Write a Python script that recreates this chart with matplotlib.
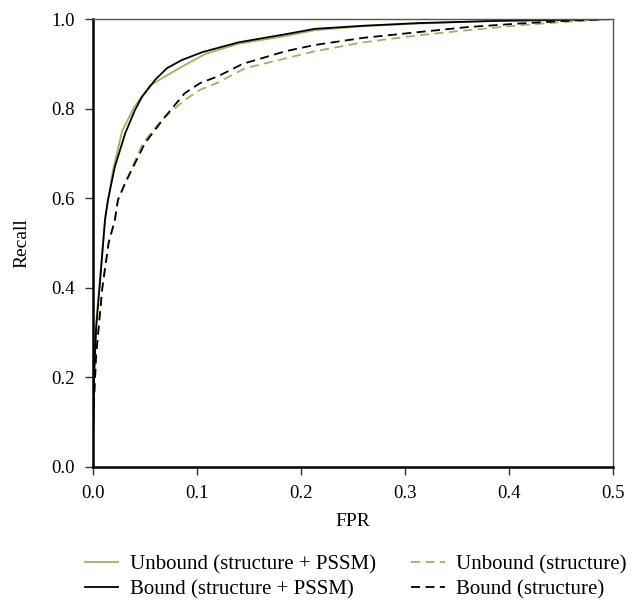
import matplotlib.pyplot as plt

plt.rcParams['font.family'] = ['Liberation Serif', 'DejaVu Serif']

green = '#94b763'

# ROC-style curves: recall vs false positive rate
fpr_ub_pssm = [0.0, 0.001, 0.003, 0.007, 0.012, 0.019, 0.028, 0.04, 0.055, 0.068, 0.085, 0.108, 0.14, 0.185, 0.213, 0.26, 0.314, 0.39, 0.45, 0.5]
rec_ub_pssm = [0.07, 0.2, 0.32, 0.43, 0.56, 0.66, 0.75, 0.805, 0.852, 0.87, 0.893, 0.922, 0.945, 0.962, 0.975, 0.984, 0.99, 0.996, 0.998, 1.0]

fpr_b_pssm = [0.0, 0.001, 0.003, 0.007, 0.0115, 0.0144, 0.021, 0.031, 0.04, 0.047, 0.06, 0.071, 0.085, 0.105, 0.14, 0.185, 0.213, 0.26, 0.314, 0.39, 0.45, 0.5]
rec_b_pssm = [0.07, 0.2, 0.31, 0.42, 0.551, 0.596, 0.67, 0.745, 0.795, 0.826, 0.865, 0.89, 0.908, 0.926, 0.948, 0.966, 0.978, 0.985, 0.991, 0.996, 0.998, 1.0]

fpr_ub_str = [0.0, 0.001, 0.003, 0.009, 0.015, 0.021, 0.024, 0.031, 0.048, 0.066, 0.088, 0.103, 0.12, 0.146, 0.185, 0.213, 0.26, 0.314, 0.36, 0.41, 0.456, 0.5]
rec_ub_str = [0.07, 0.15, 0.25, 0.4, 0.5, 0.551, 0.596, 0.634, 0.723, 0.775, 0.819, 0.842, 0.858, 0.89, 0.912, 0.928, 0.948, 0.964, 0.975, 0.986, 0.994, 1.0]

fpr_b_str = [0.0, 0.001, 0.003, 0.009, 0.015, 0.021, 0.024, 0.031, 0.05, 0.069, 0.088, 0.103, 0.12, 0.144, 0.185, 0.213, 0.26, 0.314, 0.36, 0.41, 0.456, 0.5]
rec_b_str = [0.07, 0.15, 0.25, 0.4, 0.5, 0.551, 0.596, 0.634, 0.723, 0.781, 0.834, 0.857, 0.872, 0.9, 0.928, 0.942, 0.958, 0.971, 0.982, 0.99, 0.996, 1.0]

fig = plt.figure(figsize=(6.4, 6.02), dpi=100)
ax = fig.add_axes([0.1453, 0.2243, 0.8127, 0.7441])

ax.plot(fpr_ub_pssm, rec_ub_pssm, color=green, lw=1.3, label='Unbound (structure + PSSM)')
ax.plot(fpr_b_pssm, rec_b_pssm, color='black', lw=1.3, label='Bound (structure + PSSM)')
ax.plot(fpr_ub_str, rec_ub_str, color=green, lw=1.3, ls=(0, (5, 3)), label='Unbound (structure)')
ax.plot(fpr_b_str, rec_b_str, color='black', lw=1.3, ls=(0, (5, 3)), label='Bound (structure)')

ax.set_xlim(0, 0.5)
ax.set_ylim(0, 1.0)
ax.set_xticks([0.0, 0.1, 0.2, 0.3, 0.4, 0.5])
ax.set_yticks([0.0, 0.2, 0.4, 0.6, 0.8, 1.0])
ax.xaxis.set_major_formatter(plt.FormatStrFormatter('%.1f'))
ax.yaxis.set_major_formatter(plt.FormatStrFormatter('%.1f'))
ax.tick_params(direction='out', length=6, width=1.0, color='#333333', labelsize=13.5, pad=7)

for s in ['left', 'bottom']:
    ax.spines[s].set_linewidth(1.8)
    ax.spines[s].set_color('black')
for s in ['top', 'right']:
    ax.spines[s].set_linewidth(1.0)
    ax.spines[s].set_color('#555555')

ax.set_xlabel('FPR', fontsize=14, labelpad=8)
ax.set_ylabel('Recall', fontsize=14, labelpad=15)

fig.legend(loc='upper left', bbox_to_anchor=(0.133, 0.078), bbox_transform=fig.transFigure,
           ncol=2, frameon=False, fontsize=15, handlelength=1.6, handletextpad=0.55,
           columnspacing=1.7, labelspacing=0.25, borderpad=0, borderaxespad=0)

fig.savefig('out.png', dpi=100)
